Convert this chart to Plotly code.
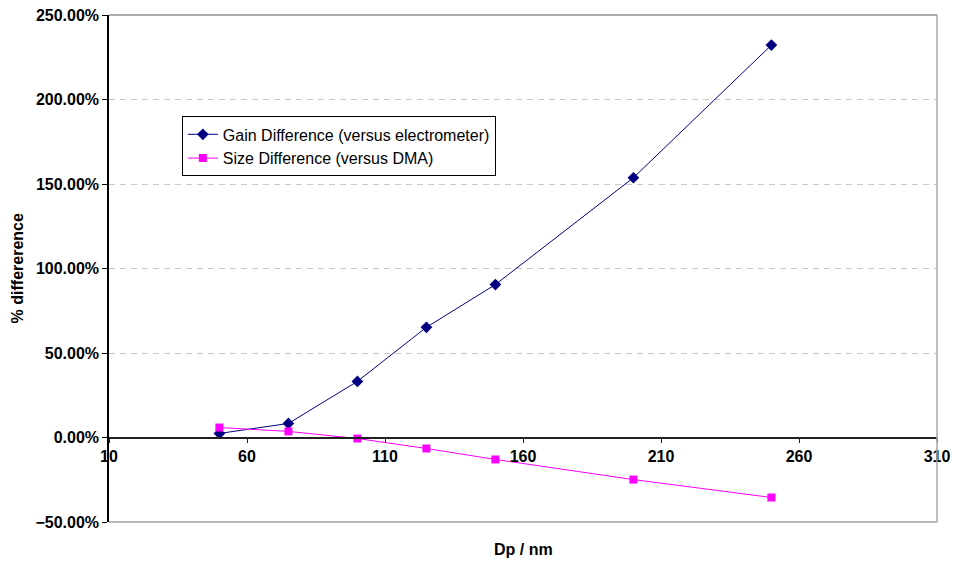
import plotly.graph_objects as go

dp = [50, 75, 100, 125, 150, 200, 250]
gain_diff = [0.024, 0.083, 0.332, 0.652, 0.905, 1.537, 2.322]
size_diff = [0.059, 0.036, -0.006, -0.065, -0.130, -0.249, -0.355]

x_range = [10, 310]
y_range = [-0.5, 2.5]
x_ticks = [10, 60, 110, 160, 210, 260, 310]
y_ticks = [-0.5, 0.0, 0.5, 1.0, 1.5, 2.0, 2.5]

FONT = "Arial, 'Liberation Sans', sans-serif"

fig = go.Figure()
fig.add_trace(go.Scatter(
    x=dp, y=gain_diff, mode="lines+markers",
    name="Gain Difference (versus electrometer)",
    line=dict(color="#000080", width=1),
    marker=dict(symbol="diamond", size=9, color="#000080"),
))
fig.add_trace(go.Scatter(
    x=dp, y=size_diff, mode="lines+markers",
    name="Size Difference (versus DMA)",
    line=dict(color="#FF00FF", width=1),
    marker=dict(symbol="square", size=8, color="#FF00FF"),
))

zero_pos = (0 - y_range[0]) / (y_range[1] - y_range[0])

fig.update_layout(
    width=954, height=563,
    margin=dict(l=109, r=17, t=15, b=41, autoexpand=False),
    paper_bgcolor="white", plot_bgcolor="white",
    font=dict(family=FONT, size=16, color="black"),
    showlegend=True,
    legend=dict(
        x=0.088, y=0.80, xanchor="left", yanchor="top",
        bordercolor="black", borderwidth=1, bgcolor="white",
        font=dict(family=FONT, size=16, color="black"),
        tracegroupgap=0, itemsizing="trace",
    ),
    xaxis=dict(
        range=x_range, tickmode="array", tickvals=x_ticks,
        ticktext=[str(v) for v in x_ticks],
        showgrid=False, zeroline=False, automargin=False,
        ticklabeloverflow="allow",
        showline=True, linecolor="#202020", linewidth=1.5,
        ticks="outside", ticklen=5, tickcolor="#202020",
        anchor="free", position=zero_pos,
        tickfont=dict(family=FONT, size=16, color="black", weight="bold"),
    ),
    yaxis=dict(
        range=y_range, tickmode="array", tickvals=y_ticks,
        tickformat=".2%", automargin=False,
        ticklabeloverflow="allow",
        showgrid=True, gridcolor="#c8c8c8", griddash="6px,5px", gridwidth=1,
        zeroline=False,
        showline=True, linecolor="black", linewidth=1.5,
        ticks="outside", ticklen=5, tickcolor="black",
        tickfont=dict(family=FONT, size=16, color="black", weight="bold"),
    ),
    shapes=[
        dict(type="line", xref="paper", yref="paper", x0=0, x1=1, y0=1, y1=1,
             line=dict(color="#909090", width=1.5)),
        dict(type="line", xref="paper", yref="paper", x0=1, x1=1, y0=0, y1=1,
             line=dict(color="#a8a8a8", width=1.5)),
        dict(type="line", xref="paper", yref="paper", x0=0, x1=1, y0=0, y1=0,
             line=dict(color="#a0a0a0", width=1.5)),
    ],
    annotations=[
        dict(text="<b>Dp / nm</b>", xref="paper", yref="paper",
             x=0.5, y=-0.055, xanchor="center", yanchor="middle", showarrow=False,
             font=dict(family=FONT, size=16, color="black")),
        dict(text="<b>% differerence</b>", xref="paper", yref="paper",
             x=-0.11, y=0.5, xanchor="center", yanchor="middle", showarrow=False,
             textangle=-90, font=dict(family=FONT, size=16, color="black")),
    ],
)

# remove the default 8px page margin so the figure fills the window exactly
fig.write_html(
    "out.html",
    config={"displayModeBar": False},
    post_script="document.body.style.margin='0';document.body.style.overflow='hidden';",
)
